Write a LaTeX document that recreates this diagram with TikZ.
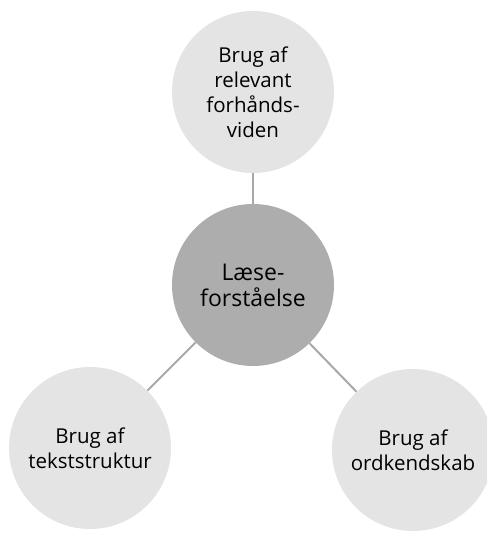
\documentclass[tikz,border=0pt]{standalone}
\usepackage{fontspec}
\setmainfont{Open Sans}
\usepackage{tikz}
\usetikzlibrary{positioning}

\definecolor{outerfill}{HTML}{E4E4E4}
\definecolor{innerfill}{HTML}{ADADAD}
\definecolor{linkgray}{HTML}{A8A8A8}

\begin{document}
\begin{tikzpicture}[x=1pt, y=-1pt,
  topic/.style={circle, fill=outerfill, minimum size=162pt, inner sep=0pt, align=center,
    font=\fontsize{20.5}{25}\selectfont},
  core/.style={topic, fill=innerfill, font=\fontsize{23}{26}\selectfont},
  link/.style={draw=linkgray, line width=2pt}]
 \useasboundingbox (0,0) rectangle (487,545);
 \begin{scope}
  \clip (0,0) rectangle (487,545);
  \node[core]  (laes) at (253,285) {Læse-\\forståelse};
  \node[topic] (viden) at (253,92) {Brug af\\relevant\\forhånds-\\viden};
  \node[topic] (tekst) at (90,448) {Brug af\\tekststruktur};
  \node[topic] (ord) at (413,450) {Brug af\\ordkendskab};
  \path[link]
  (laes) edge (viden)
  edge (tekst)
  edge (ord)
;
 \end{scope}
\end{tikzpicture}
\end{document}
